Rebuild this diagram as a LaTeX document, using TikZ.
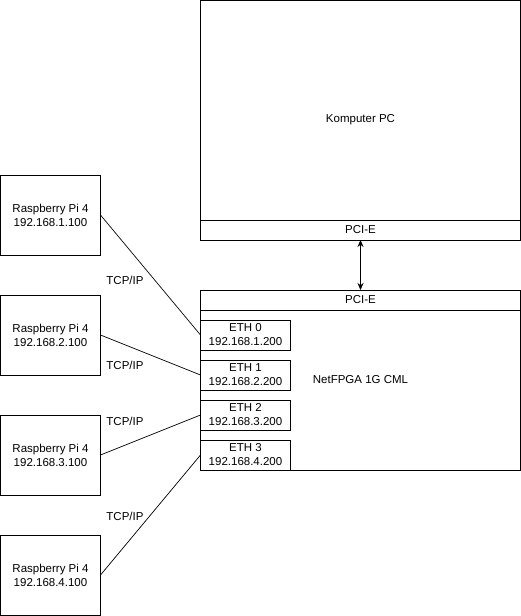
\documentclass[tikz,border=0pt]{standalone}
\usepackage{fontspec}
\setmainfont{Liberation Sans}
\usepackage{tikz}
\usetikzlibrary{positioning, arrows.meta}
\tikzset{
  box/.style={
    rectangle, draw=black, line width=0.9pt, inner sep=0pt, outer sep=0pt,
    font=\fontsize{11.5}{14}\selectfont, align=center
  },
  pcbox/.style={box, minimum width=320pt, minimum height=240pt},
  fpgabox/.style={box, minimum width=320pt, minimum height=180pt},
  strip/.style={box, minimum width=320pt, minimum height=20pt},
  ethbox/.style={box, minimum width=90pt, minimum height=30pt},
  rpibox/.style={box, minimum width=100pt, minimum height=80pt},
  link/.style={draw, line width=0.7pt},
  linklabel/.style={font=\fontsize{11.5}{14}\selectfont, inner sep=0pt},
}
\begin{document}
\begin{tikzpicture}[x=1pt, y=-1pt]
  \useasboundingbox (0,0) rectangle (521,616);

  % Komputer PC
  \node[pcbox] (PC) at (360.5,120) {Komputer PC};
  \node[strip] (PCpci) at (360.5,230) {PCI-E};

  % NetFPGA
  \node[fpgabox] (FPGA) at (360.5,380) {NetFPGA 1G CML};
  \node[strip] (FPGApci) at (360.5,300) {PCI-E};
  \node[ethbox] (E0) at (245.5,335) {ETH 0\\192.168.1.200};
  \node[ethbox, below=10pt of E0] (E1) {ETH 1\\192.168.2.200};
  \node[ethbox, below=10pt of E1] (E2) {ETH 2\\192.168.3.200};
  \node[ethbox, below=10pt of E2] (E3) {ETH 3\\192.168.4.200};

  % Raspberry Pi
  \node[rpibox] (R1) at (50.5,215) {Raspberry Pi 4\\192.168.1.100};
  \node[rpibox, below=40pt of R1] (R2) {Raspberry Pi 4\\192.168.2.100};
  \node[rpibox, below=40pt of R2] (R3) {Raspberry Pi 4\\192.168.3.100};
  \node[rpibox, below=40pt of R3] (R4) {Raspberry Pi 4\\192.168.4.100};

  % PCI-E link
  \draw[{Stealth[length=7pt,width=6pt]}-{Stealth[length=7pt,width=6pt]}, line width=0.8pt] (PCpci.south) -- (FPGApci.north);

  % Ethernet links
  \draw[link] (R1.east) -- (E0.west);
  \draw[link] (R2.east) -- (E1.west);
  \draw[link] (R3.east) -- (E2.west);
  \draw[link] (R4.east) -- (E3.west);
  \node[linklabel] (T1) at (125,280) {TCP/IP};
  \node[linklabel] (T2) at (125,365) {TCP/IP};
  \node[linklabel] (T3) at (125,421) {TCP/IP};
  \node[linklabel] (T4) at (125,516) {TCP/IP};
\end{tikzpicture}
\end{document}
